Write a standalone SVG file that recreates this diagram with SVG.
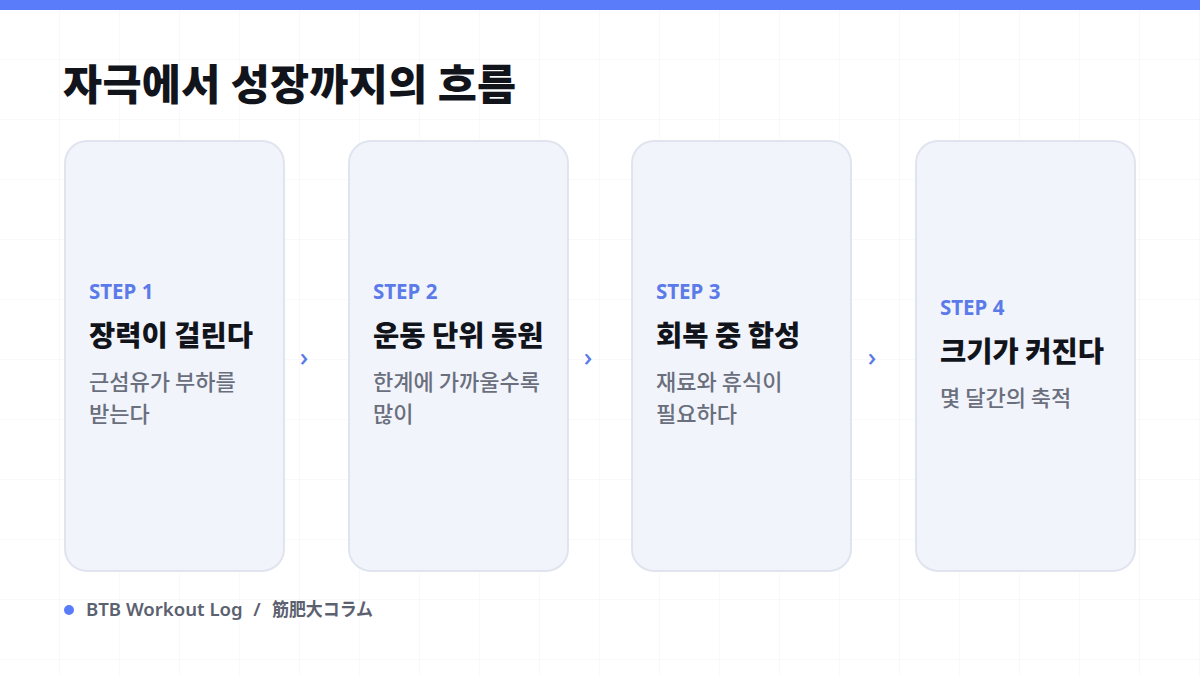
<svg xmlns="http://www.w3.org/2000/svg" width="1200" height="675" viewBox="0 0 1200 675">
<defs>
<pattern id="grid" width="60" height="60" patternUnits="userSpaceOnUse">
<path d="M60 0V60M0 60H60" fill="none" stroke="#f0f2f6" stroke-width="1"/>
</pattern>
</defs>
<style>
.card{fill:#f2f4fb;stroke:#e0e4ee;stroke-width:2}
.step{font-family:"Noto Sans","Noto Sans CJK KR",sans-serif;font-weight:700;font-size:20.5px;fill:#5b7be9}
.ttl{font-family:"Noto Sans CJK KR",sans-serif;font-weight:800;font-size:28.5px;fill:#12141c}
.desc{font-family:"Noto Sans CJK KR",sans-serif;font-weight:500;font-size:22px;fill:#6a6f7d}
.arr{font-family:"Noto Sans",sans-serif;font-weight:500;font-size:26px;fill:#5b7be9}
.foot{font-family:"Noto Sans","Noto Sans CJK JP",sans-serif;font-weight:600;font-size:18.6px;fill:#5c6170}
</style>
<rect width="1200" height="675" fill="#ffffff"/>
<rect width="1200" height="675" fill="url(#grid)"/>
<rect width="1200" height="10" fill="#5b7cfa"/>
<text x="63" y="100" font-family="Noto Sans CJK KR,sans-serif" font-weight="900" font-size="42.5" letter-spacing="0.3" fill="#12141c">자극에서 성장까지의 흐름</text>
<g id="connectors">
<text class="arr" x="304" y="366" text-anchor="middle">›</text>
<text class="arr" x="588" y="366" text-anchor="middle">›</text>
<text class="arr" x="872" y="366" text-anchor="middle">›</text>
</g>
<g id="step1">
<rect class="card" x="65" y="141" width="219" height="430" rx="22"/>
<text class="step" x="89" y="299">STEP 1</text>
<text class="ttl" x="89" y="346">장력이 걸린다</text>
<text class="desc" x="89" y="390">근섬유가 부하를</text>
<text class="desc" x="89" y="422">받는다</text>
</g>
<g id="step2">
<rect class="card" x="349" y="141" width="219" height="430" rx="22"/>
<text class="step" x="373" y="299">STEP 2</text>
<text class="ttl" x="373" y="346">운동 단위 동원</text>
<text class="desc" x="373" y="390">한계에 가까울수록</text>
<text class="desc" x="373" y="422">많이</text>
</g>
<g id="step3">
<rect class="card" x="632" y="141" width="219" height="430" rx="22"/>
<text class="step" x="656" y="299">STEP 3</text>
<text class="ttl" x="656" y="346">회복 중 합성</text>
<text class="desc" x="656" y="390">재료와 휴식이</text>
<text class="desc" x="656" y="422">필요하다</text>
</g>
<g id="step4">
<rect class="card" x="916" y="141" width="219" height="430" rx="22"/>
<text class="step" x="940" y="315">STEP 4</text>
<text class="ttl" x="940" y="362">크기가 커진다</text>
<text class="desc" x="940" y="406">몇 달간의 축적</text>
</g>
<g id="footer">
<circle cx="69" cy="610" r="5" fill="#5b7cfa"/>
<text class="foot" x="86" y="616">BTB Workout Log</text>
<text class="foot" x="257" y="616" text-anchor="middle">/</text>
<text class="foot" x="272" y="616" font-weight="500" textLength="101" lengthAdjust="spacingAndGlyphs">筋肥大コラム</text>
</g>
</svg>
